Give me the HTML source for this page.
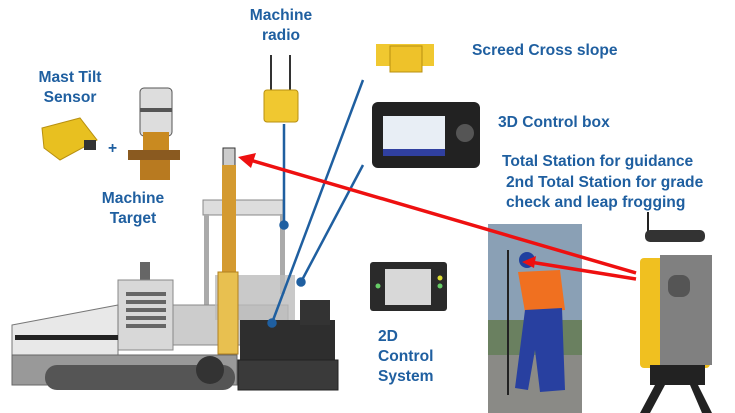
<!DOCTYPE html>
<html><head><meta charset="utf-8"><style>
html,body{margin:0;padding:0;background:#fff;width:735px;height:413px;overflow:hidden}
svg{display:block}
text{font-family:"Liberation Sans",sans-serif;font-weight:bold;fill:#1f5fa0;font-size:15.6px}
</style></head><body>
<svg width="735" height="413" viewBox="0 0 735 413">
<!-- Labels -->
<text x="281" y="20" text-anchor="middle">Machine</text>
<text x="281" y="40" text-anchor="middle">radio</text>
<text x="70" y="82" text-anchor="middle">Mast Tilt</text>
<text x="70" y="102" text-anchor="middle">Sensor</text>
<text x="133" y="203" text-anchor="middle">Machine</text>
<text x="133" y="223" text-anchor="middle">Target</text>
<text x="472" y="55">Screed Cross slope</text>
<text x="498" y="127">3D Control box</text>
<text x="502" y="166">Total Station for guidance</text>
<text x="506" y="187">2nd Total Station for grade</text>
<text x="506" y="207">check and  leap frogging</text>
<text x="378" y="341">2D</text>
<text x="378" y="361">Control</text>
<text x="378" y="381">System</text>
<text x="108" y="153" font-size="13">+</text>

<!-- mast tilt sensor -->
<polygon points="42,128 80,118 97,140 60,160 44,148" fill="#e8c020" stroke="#b89010"/>
<rect x="84" y="140" width="12" height="10" fill="#333"/>
<!-- machine target -->
<rect x="140" y="88" width="32" height="48" rx="4" fill="#ddd" stroke="#555"/>
<rect x="140" y="108" width="32" height="4" fill="#555"/>
<rect x="143" y="132" width="26" height="20" fill="#c98a20"/>
<rect x="128" y="150" width="52" height="10" fill="#8a5a20"/>
<rect x="140" y="160" width="30" height="20" fill="#b87a20"/>
<!-- radio -->
<line x1="271" y1="55" x2="271" y2="92" stroke="#333" stroke-width="2"/>
<line x1="290" y1="55" x2="290" y2="92" stroke="#333" stroke-width="2"/>
<rect x="264" y="90" width="34" height="32" rx="3" fill="#f0c830" stroke="#b89010"/>
<!-- screed sensor -->
<rect x="376" y="44" width="58" height="22" fill="#f0c830"/>
<rect x="390" y="46" width="32" height="26" fill="#eec22a" stroke="#b89010"/>
<!-- 3D control box -->
<rect x="372" y="102" width="108" height="66" rx="6" fill="#222"/>
<rect x="383" y="116" width="62" height="40" fill="#e8eef5"/>
<rect x="383" y="149" width="62" height="7" fill="#3040a0"/>
<circle cx="465" cy="133" r="9" fill="#555"/>
<!-- 2D control box -->
<rect x="370" y="262" width="77" height="49" rx="3" fill="#2a2a2a"/>
<rect x="385" y="269" width="46" height="36" fill="#d8d8d8"/>
<circle cx="378" cy="286" r="2.5" fill="#6c6"/><circle cx="440" cy="278" r="2.5" fill="#dd3"/><circle cx="440" cy="286" r="2.5" fill="#6c6"/>

<!-- Paver -->
<rect x="203" y="200" width="80" height="15" fill="#ddd" stroke="#888"/>
<rect x="204" y="214" width="5" height="95" fill="#aaa"/>
<rect x="280" y="214" width="5" height="80" fill="#aaa"/>
<rect x="140" y="262" width="10" height="20" fill="#666"/>
<rect x="118" y="280" width="55" height="70" fill="#d8d8d8" stroke="#888"/>
<g fill="#666"><rect x="126" y="292" width="40" height="4"/><rect x="126" y="300" width="40" height="4"/><rect x="126" y="308" width="40" height="4"/><rect x="126" y="316" width="40" height="4"/><rect x="126" y="324" width="40" height="4"/></g>
<polygon points="12,325 118,305 118,355 12,355" fill="#e8e8e8" stroke="#777"/>
<rect x="15" y="335" width="103" height="5" fill="#222"/>
<rect x="173" y="305" width="115" height="40" fill="#ccc" stroke="#888"/>
<rect x="12" y="355" width="225" height="30" fill="#999" stroke="#666"/>
<rect x="45" y="365" width="190" height="25" rx="12" fill="#555"/>
<circle cx="210" cy="370" r="14" fill="#333"/>
<rect x="240" y="320" width="95" height="70" fill="#2e2e2e"/>
<rect x="238" y="360" width="100" height="30" fill="#3a3a3a" stroke="#222"/>
<rect x="300" y="300" width="30" height="25" fill="#333"/>
<rect x="215" y="275" width="80" height="45" fill="#bbb" opacity=".8"/>
<!-- mast -->
<rect x="223" y="148" width="12" height="18" fill="#ccc" stroke="#333"/>
<rect x="222" y="165" width="14" height="110" fill="#d49a30"/>
<rect x="218" y="272" width="20" height="82" fill="#e8c050" stroke="#b08020"/>

<!-- Blue lines -->
<g stroke="#1f5fa0" stroke-width="2.5" fill="#1f5fa0">
<line x1="284" y1="124" x2="284" y2="225"/><circle cx="284" cy="225" r="3.5"/>
<line x1="363" y1="80" x2="272" y2="323"/><circle cx="272" cy="323" r="3.5"/>
<line x1="363" y1="165" x2="301" y2="282"/><circle cx="301" cy="282" r="3.5"/>
</g>

<!-- worker photo -->
<rect x="488" y="224" width="94" height="189" fill="#8aa0b5"/>
<rect x="488" y="320" width="94" height="40" fill="#6a8060"/>
<rect x="488" y="355" width="94" height="58" fill="#8a8a86"/>
<line x1="508" y1="250" x2="508" y2="395" stroke="#222" stroke-width="2"/>
<circle cx="527" cy="260" r="8" fill="#2040a0"/>
<path d="M518 272 L560 270 L565 310 L525 312 Z" fill="#f07020"/>
<path d="M525 310 L562 308 L565 390 L540 392 L535 350 L528 390 L515 388 Z" fill="#2840a0"/>

<!-- total station -->
<line x1="648" y1="212" x2="648" y2="240" stroke="#222" stroke-width="2"/>
<rect x="645" y="230" width="60" height="12" rx="5" fill="#333"/>
<rect x="640" y="258" width="70" height="110" rx="4" fill="#f0c020"/>
<rect x="660" y="255" width="52" height="110" fill="#808080"/>
<rect x="668" y="275" width="22" height="22" rx="8" fill="#555"/>
<rect x="650" y="365" width="55" height="20" fill="#222"/>
<polygon points="655,385 640,413 650,413 665,385" fill="#222"/>
<polygon points="698,385 712,413 702,413 690,385" fill="#222"/>

<!-- red lines -->
<g stroke="#ee1010" stroke-width="3.5" fill="none">
<line x1="636" y1="273" x2="250" y2="160"/>
<line x1="636" y1="279" x2="530" y2="262"/>
</g>
<polygon points="238,157 256,153 251,168" fill="#ee1010"/>
<polygon points="522,262 536,256 534,268" fill="#ee1010"/>
</svg>
</body></html>
